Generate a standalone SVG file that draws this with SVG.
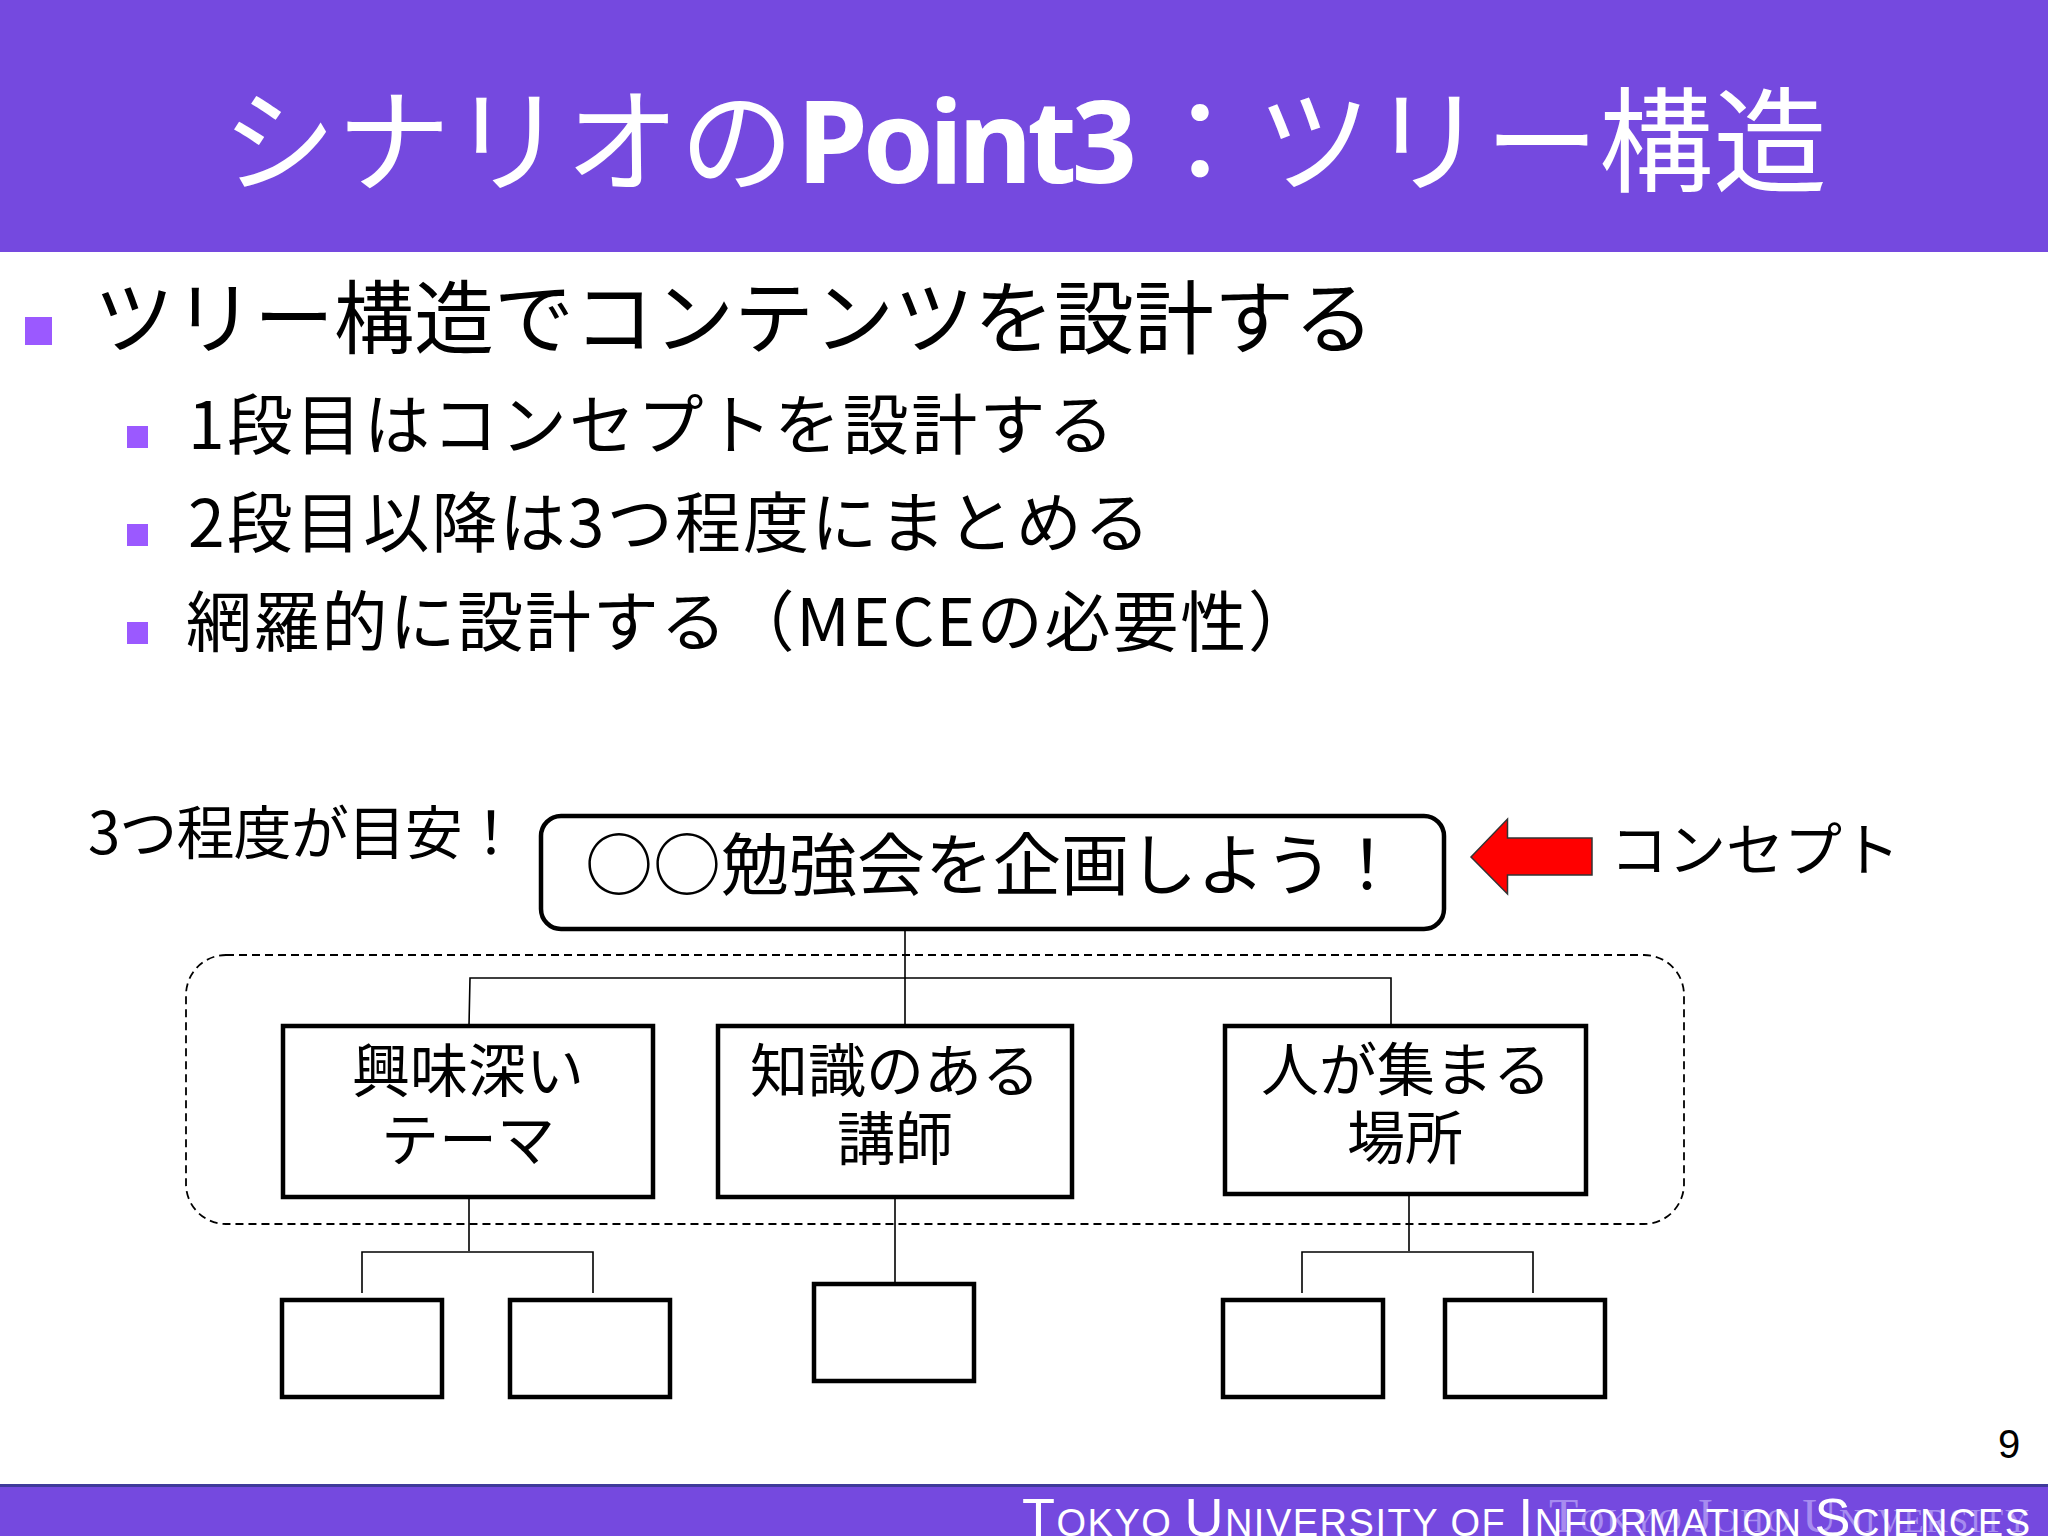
<svg xmlns="http://www.w3.org/2000/svg" width="2048" height="1536" viewBox="0 0 2048 1536">
<style>
text{font-family:"Noto Sans CJK JP","Liberation Sans",sans-serif;fill:#000}
.b{fill:#fff;stroke:#000;stroke-width:4.5}
.c{fill:none;stroke:#000;stroke-width:1.6}
.bul{fill:#9b59ff}
.n{font-size:58px;text-anchor:middle}
.sub{font-size:66px}
.t{font-size:114px;fill:#fff}
.ft{font-family:"Liberation Sans",Arial,sans-serif;fill:#fff;font-size:38px}
.ft tspan{font-size:54px}
.gh{font-family:"Liberation Serif",serif;fill:#a78cf0;font-size:33px}
.gh tspan{font-size:48px}
</style>
<rect width="2048" height="1536" fill="#fff"/>
<g id="header"><rect width="2048" height="252" fill="#7549df"/>
<text class="t" x="222" y="183" textLength="572">シナリオの</text>
<text class="t" x="797" y="183" textLength="340" font-weight="700" style="font-family:'Noto Sans','Liberation Sans',sans-serif">Point3</text>
<text class="t" x="1143" y="183" textLength="684">：ツリー構造</text></g>
<g id="bullets">
<rect class="bul" x="25" y="317" width="27" height="28"/>
<rect class="bul" x="127" y="426" width="21" height="22"/>
<rect class="bul" x="127" y="524" width="21" height="22"/>
<rect class="bul" x="127" y="622" width="21" height="22"/>
<text x="94" y="347" font-size="80" textLength="1280">ツリー構造でコンテンツを設計する</text>
<text class="sub" x="188" y="449" textLength="926">1段目はコンセプトを設計する</text>
<text class="sub" x="188" y="547" textLength="962">2段目以降は3つ程度にまとめる</text>
<text class="sub" x="186" y="646" textLength="1128">網羅的に設計する（MECEの必要性）</text>
</g>
<g id="connectors">
<path class="c" d="M905 929V1026M469 1026L470 978H1391V1026"/>
<path class="c" d="M469 1191V1251M362 1293V1252H593V1293"/>
<path class="c" d="M895 1197V1284"/>
<path class="c" d="M1409 1194V1251M1302 1293V1252H1533V1293"/>
</g>
<g id="group-dashed"><rect x="186" y="955" width="1498" height="269" rx="40" fill="none" stroke="#000" stroke-width="1.8" stroke-dasharray="8 5"/></g>
<g id="hint"><text x="88" y="854" font-size="58" textLength="432">3つ程度が目安！</text></g>
<g id="root"><rect class="b" x="541" y="816" width="903" height="113" rx="20"/>
<text x="585" y="890" font-size="68" textLength="816">○○勉強会を企画しよう！</text></g>
<g id="arrow"><polygon points="1471,857 1507.5,819 1507.5,838 1592,838 1592,875 1507.5,875 1507.5,894" fill="#f00" stroke="#333" stroke-width="1.5"/></g>
<g id="concept"><text x="1610" y="871" font-size="58" textLength="290">コンセプト</text></g>
<g id="n1"><rect class="b" x="283" y="1026" width="370" height="171"/>
<text class="n" x="468" y="1092">興味深い</text><text class="n" x="468" y="1161">テーマ</text></g>
<g id="n2"><rect class="b" x="718" y="1026" width="354" height="171"/>
<text class="n" x="895" y="1092">知識のある</text><text class="n" x="895" y="1160">講師</text></g>
<g id="n3"><rect class="b" x="1225" y="1026" width="361" height="168"/>
<text class="n" x="1406" y="1091">人が集まる</text><text class="n" x="1405" y="1159">場所</text></g>
<g id="l1"><rect class="b" x="282" y="1300" width="160" height="97"/></g>
<g id="l2"><rect class="b" x="510" y="1300" width="160" height="97"/></g>
<g id="l3"><rect class="b" x="814" y="1284" width="160" height="97"/></g>
<g id="l4"><rect class="b" x="1223" y="1300" width="160" height="97"/></g>
<g id="l5"><rect class="b" x="1445" y="1300" width="160" height="97"/></g>
<text id="page" x="1998" y="1458" font-size="40" style="font-family:'Liberation Sans',sans-serif">9</text>
<g id="footer"><rect y="1484" width="2048" height="52" fill="#7549df"/><rect y="1484" width="2048" height="3" fill="#3f3a9a"/>
<text class="gh" x="1549" y="1532" textLength="480"><tspan>T</tspan>OKYO <tspan>J</tspan>OHO <tspan>U</tspan>NIVERSITY</text>
<text class="ft" x="1022" y="1536" textLength="1008"><tspan>T</tspan>OKYO <tspan>U</tspan>NIVERSITY OF <tspan>I</tspan>NFORMATION <tspan>S</tspan>CIENCES</text></g>
</svg>
